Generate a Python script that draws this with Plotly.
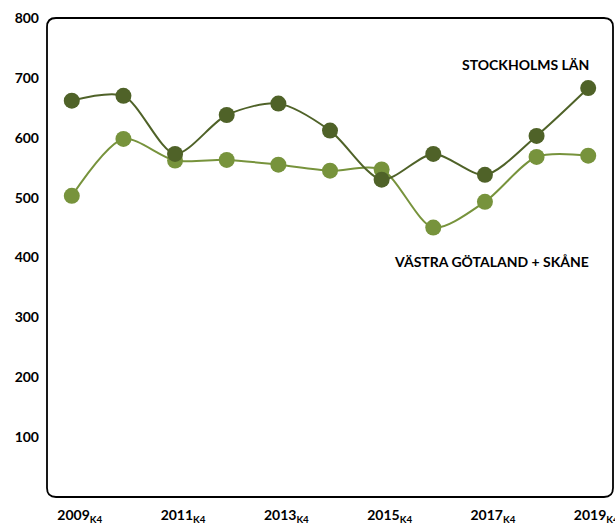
import plotly.graph_objects as go

years = ["2009", "2010", "2011", "2012", "2013", "2014", "2015", "2016", "2017", "2018", "2019"]
stockholm = [662, 670, 573, 638, 657, 612, 530, 573, 538, 603, 683]
vg_skane = [503, 598, 562, 563, 555, 545, 547, 450, 493, 568, 570]
tick_years = ["2009", "2011", "2013", "2015", "2017", "2019"]
y_ticks = [100, 200, 300, 400, 500, 600, 700, 800]

x_idx = list(range(len(years)))
dark = "#4f6228"
light = "#77933c"

fig = go.Figure()
fig.add_trace(go.Scatter(x=x_idx, y=vg_skane, mode="lines+markers",
                         line=dict(color=light, width=2, shape="spline", smoothing=0.8),
                         marker=dict(color=light, size=16), name="VÄSTRA GÖTALAND + SKÅNE"))
fig.add_trace(go.Scatter(x=x_idx, y=stockholm, mode="lines+markers",
                         line=dict(color=dark, width=2, shape="spline", smoothing=0.8),
                         marker=dict(color=dark, size=16), name="STOCKHOLMS LÄN"))

W, H = 615, 524
ml, mr, mt, mb = 47, 2, 18, 27
pw, ph = W - ml - mr, H - mt - mb
r = 9
rx, ry = r / pw, r / ph
path = (f"M {rx} 0 L {1-rx} 0 Q 1 0 1 {ry} L 1 {1-ry} Q 1 1 {1-rx} 1 "
        f"L {rx} 1 Q 0 1 0 {1-ry} L 0 {ry} Q 0 0 {rx} 0 Z")
fig.add_shape(type="path", xref="paper", yref="paper", path=path,
              line=dict(color="black", width=1.8), layer="above")

fig.add_annotation(x=10.05, y=723, xref="x", yref="y", text="STOCKHOLMS LÄN", showarrow=False,
                   xanchor="right", font=dict(family="Lato", size=14, color="black", weight="bold"))
fig.add_annotation(x=10.05, y=393, xref="x", yref="y", text="VÄSTRA GÖTALAND + SKÅNE", showarrow=False,
                   xanchor="right", font=dict(family="Lato", size=14, color="black", weight="bold"))

fig.update_layout(
    width=W, height=H, margin=dict(l=ml, r=mr, t=mt, b=mb, autoexpand=False),
    plot_bgcolor="white", paper_bgcolor="white", showlegend=False,
    font=dict(family="Lato", size=14, color="black", weight="bold"),
    xaxis=dict(range=[-0.48, 10.48], tickvals=[years.index(y) for y in tick_years],
               ticktext=[f"{y}<sub>K4</sub>" for y in tick_years],
               showgrid=False, zeroline=False, showline=False, ticks="",
               ticklabelstandoff=8, ticklabelshift=8, automargin=False,
               ticklabeloverflow="allow"),
    yaxis=dict(range=[0, 800], tickvals=y_ticks, showgrid=False, zeroline=False,
               showline=False, ticks="", ticklabelstandoff=7, automargin=False),
)
fig.write_html("out.html", default_width=W, default_height=H,
               config={"displayModeBar": False},
               post_script="document.body.style.margin='0';document.body.style.overflow='hidden';")
